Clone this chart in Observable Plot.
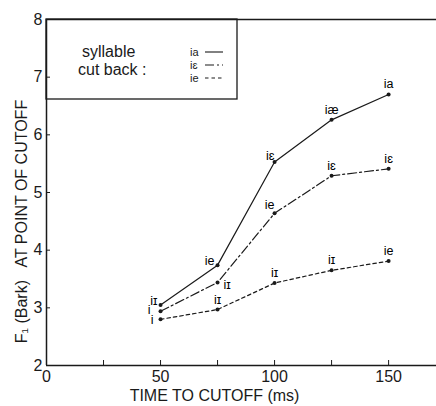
<!DOCTYPE html>
<html><head><meta charset="utf-8">
<script src="https://cdn.jsdelivr.net/npm/d3@7"></script>
<script src="https://cdn.jsdelivr.net/npm/@observablehq/plot@0.6"></script>
<style>
body{margin:0;background:#fff;}
#chart{position:relative;width:436px;height:406px;}
svg{font-family:"Liberation Sans",Arial,sans-serif;}
</style></head>
<body><div id="chart"></div>
<script>
// ---- data ----
const cutoffTimes = [50, 75, 100, 125, 150];
const syllables = ["ia", "iɛ", "ie"];
const f1_ia = [3.05, 3.74, 5.53, 6.26, 6.70];
const f1_iE = [2.94, 3.44, 4.64, 5.29, 5.41];
const f1_ie = [2.80, 2.97, 3.43, 3.65, 3.81];
const vowels_ia = ["iɪ", "ie", "iɛ", "iæ", "ia"];
const vowels_iE = ["i", "iɪ", "ie", "iɛ", "iɛ"];
const vowels_ie = ["i", "iɪ", "iɪ", "iɪ", "ie"];
const yTicks = [2, 3, 4, 5, 6, 7, 8];
const xTicks = [0, 25, 50, 75, 100, 125, 150];
const xTickLabels = ["0", "", "50", "", "100", "", "150"];

// ---- label placement (style, not data) ----
const place = {
  "ia": ["left", "left", "leftUp", "up", "up"],
  "iɛ": ["leftFar", "right", "leftUpMid", "up", "up"],
  "ie": ["leftFar2", "up", "up", "up", "up"]
};
const placeStyle = {
  left: {textAnchor: "end", dx: -3, dy: -4},
  leftFar: {textAnchor: "end", dx: -10, dy: -1},
  leftFar2: {textAnchor: "end", dx: -7, dy: 1},
  leftUp: {textAnchor: "end", dx: 0, dy: -6},
  leftUpMid: {textAnchor: "middle", dx: -5, dy: -8},
  up: {textAnchor: "middle", dx: 0, dy: -10},
  right: {textAnchor: "start", dx: 6, dy: 3}
};
const dashes = {"ia": null, "iɛ": "9,3,2,3", "ie": "3.5,3"};

const seriesVals = {"ia": f1_ia, "iɛ": f1_iE, "ie": f1_ie};
const seriesLab = {"ia": vowels_ia, "iɛ": vowels_iE, "ie": vowels_ie};
const rows = syllables.flatMap(s => cutoffTimes.map((t, i) => ({
  syl: s, t, f1: seriesVals[s][i], lab: seriesLab[s][i], pl: place[s][i]
})));

const ink = "#1a1a1a";
const marks = [
  Plot.ruleY([8], {stroke: ink, strokeWidth: 1.3}),
  Plot.ruleY([2], {stroke: ink, strokeWidth: 1.3}),
  Plot.ruleX([0], {stroke: ink, strokeWidth: 1.5}),
  Plot.axisY({ticks: yTicks, tickSize: -4, tickPadding: 8, fontSize: 16, stroke: ink, fill: ink, label: null,
    tickFormat: d => String(d)}),
  Plot.axisX({ticks: xTicks, tickSize: -5, tickPadding: 10, fontSize: 16, stroke: ink, fill: ink, label: null,
    tickFormat: d => xTickLabels[xTicks.indexOf(d)]}),
  ...syllables.map(s => Plot.line(rows.filter(r => r.syl === s), {
    x: "t", y: "f1", stroke: ink, strokeWidth: 1.2, strokeDasharray: dashes[s]
  })),
  Plot.dot(rows, {x: "t", y: "f1", r: 2, fill: ink, stroke: null}),
  ...Object.entries(placeStyle).map(([k, st]) => Plot.text(rows.filter(r => r.pl === k), {
    x: "t", y: "f1", text: "lab", fontSize: 12.5, fill: "#000", ...st
  })),
  Plot.text(["TIME TO CUTOFF (ms)"], {frameAnchor: "bottom", lineAnchor: "middle", dx: -27, dy: 30, fontSize: 16,
    fill: ink, textAnchor: "middle", letterSpacing: "3px"}),
  Plot.text(["F₁ (Bark)   AT POINT OF CUTOFF"], {frameAnchor: "left", lineAnchor: "middle", dx: -25, dy: 29,
    rotate: -90, fontSize: 16, fill: ink, textAnchor: "middle", letterSpacing: "1.9px"})
];

const chart = Plot.plot({
  width: 436, height: 406,
  marginLeft: 46, marginRight: 0, marginTop: 19, marginBottom: 41,
  x: {domain: [0, 171]},
  y: {domain: [2, 8]},
  style: {background: "#fff", color: ink, fontFamily: "'Liberation Sans', Arial, sans-serif"},
  marks
});
document.getElementById("chart").appendChild(chart);

// ---- legend box ----
const svg = d3.select(chart);
const g = svg.append("g").attr("fill", ink).attr("text-anchor", "start")
  .attr("font-family", "'Liberation Sans', Arial, sans-serif");
g.append("rect").attr("x", 46).attr("y", 19).attr("width", 191).attr("height", 80)
  .attr("fill", "none").attr("stroke", ink).attr("stroke-width", 1.3);
g.append("text").attr("x", 82).attr("y", 57).attr("font-size", 16).text("syllable");
g.append("text").attr("x", 78).attr("y", 75).attr("font-size", 16).text("cut back :");
syllables.forEach((s, i) => {
  const y = 52 + i * 13;
  g.append("text").attr("x", 190).attr("y", y + 3.5).attr("font-size", 11).text(s);
  g.append("line").attr("x1", 205).attr("x2", 223).attr("y1", y).attr("y2", y)
    .attr("stroke", ink).attr("stroke-width", 1.1).attr("stroke-dasharray", dashes[s]);
});
</script>
</body></html>
